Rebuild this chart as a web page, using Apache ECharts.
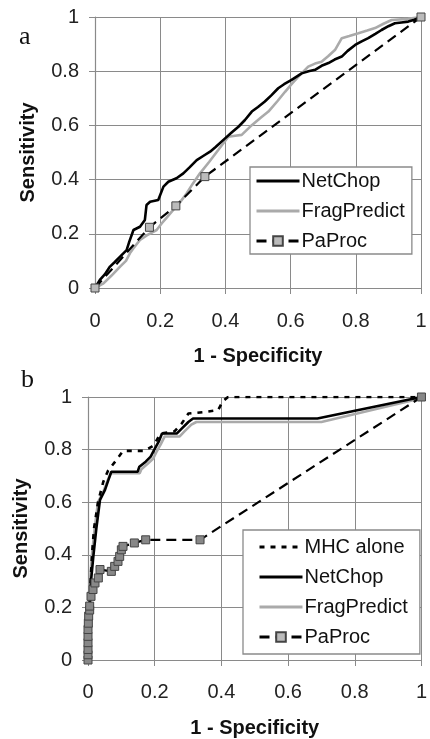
<!DOCTYPE html>
<html><head><meta charset="utf-8">
<script src="https://cdn.jsdelivr.net/npm/echarts@6/dist/echarts.min.js"></script>
<style>html,body{margin:0;padding:0;background:#fff}#c{width:430px;height:739px}</style>
</head><body><div id="c"></div>
<script>
const axisTicks = [0, 0.2, 0.4, 0.6, 0.8, 1];
const xAxisTitle = '1 - Specificity';
const yAxisTitle = 'Sensitivity';
const panelLabels = ['a', 'b'];
const legendA = ['NetChop', 'FragPredict', 'PaProc'];
const legendB = ['MHC alone', 'NetChop', 'FragPredict', 'PaProc'];

const netChopA = [[0,0],[0.015,0.03],[0.03,0.05],[0.046,0.079],[0.06,0.095],[0.077,0.116],[0.097,0.14],[0.105,0.17],[0.118,0.214],[0.138,0.226],[0.153,0.251],[0.158,0.306],[0.169,0.318],[0.194,0.325],[0.21,0.374],[0.225,0.392],[0.25,0.405],[0.271,0.423],[0.29,0.445],[0.312,0.472],[0.333,0.488],[0.353,0.503],[0.37,0.52],[0.399,0.552],[0.42,0.575],[0.44,0.595],[0.46,0.62],[0.481,0.651],[0.5,0.668],[0.521,0.688],[0.54,0.71],[0.562,0.737],[0.58,0.752],[0.603,0.768],[0.634,0.792],[0.655,0.8],[0.675,0.805],[0.695,0.82],[0.716,0.83],[0.735,0.843],[0.757,0.854],[0.775,0.875],[0.798,0.897],[0.818,0.91],[0.838,0.922],[0.86,0.938],[0.879,0.952],[0.9,0.966],[0.92,0.977],[0.94,0.98],[0.961,0.983],[0.98,0.99],[1,1]];
const fragPredictA = [[0,0],[0.026,0.017],[0.05,0.045],[0.077,0.079],[0.095,0.1],[0.107,0.128],[0.12,0.15],[0.138,0.177],[0.16,0.195],[0.189,0.214],[0.205,0.239],[0.22,0.26],[0.24,0.288],[0.26,0.315],[0.281,0.349],[0.3,0.385],[0.322,0.423],[0.35,0.465],[0.378,0.509],[0.409,0.558],[0.43,0.562],[0.45,0.565],[0.481,0.601],[0.51,0.63],[0.532,0.651],[0.56,0.69],[0.583,0.724],[0.605,0.755],[0.624,0.78],[0.654,0.817],[0.675,0.828],[0.695,0.835],[0.715,0.855],[0.736,0.878],[0.757,0.922],[0.78,0.93],[0.808,0.94],[0.835,0.95],[0.859,0.959],[0.885,0.975],[0.91,0.989],[0.96,0.993],[1,1]];
const paProcA = [[0,0],[0.167,0.224],[0.248,0.303],[0.337,0.411],[1,1]];

const mhcAloneB = [[0,0],[0.002,0.1],[0.005,0.2],[0.008,0.3],[0.012,0.4],[0.018,0.5],[0.03,0.6],[0.046,0.678],[0.06,0.72],[0.085,0.76],[0.105,0.795],[0.168,0.795],[0.19,0.81],[0.198,0.817],[0.217,0.861],[0.26,0.87],[0.281,0.899],[0.301,0.937],[0.35,0.943],[0.39,0.95],[0.405,0.985],[0.42,1],[1,1]];
const netChopB = [[0,0],[0.002,0.1],[0.005,0.2],[0.009,0.3],[0.016,0.394],[0.025,0.5],[0.036,0.609],[0.051,0.647],[0.061,0.684],[0.07,0.716],[0.149,0.716],[0.154,0.735],[0.173,0.754],[0.188,0.773],[0.198,0.798],[0.212,0.83],[0.222,0.861],[0.266,0.861],[0.281,0.88],[0.301,0.905],[0.315,0.918],[0.688,0.918],[1,1]];
const fragPredictB = [[0,0],[0.001,0.1],[0.003,0.2],[0.006,0.3],[0.012,0.4],[0.02,0.5],[0.03,0.6],[0.046,0.64],[0.058,0.68],[0.068,0.71],[0.155,0.71],[0.16,0.725],[0.178,0.745],[0.195,0.765],[0.205,0.79],[0.218,0.82],[0.23,0.85],[0.275,0.85],[0.29,0.87],[0.31,0.895],[0.325,0.905],[0.7,0.905],[1,0.995]];
const paProcB = [[0,0],[0,0.02],[0,0.04],[0,0.066],[0,0.09],[0,0.116],[0.001,0.14],[0.002,0.167],[0.005,0.19],[0.005,0.205],[0.009,0.242],[0.015,0.268],[0.021,0.293],[0.031,0.312],[0.036,0.344],[0.07,0.337],[0.08,0.356],[0.09,0.375],[0.095,0.394],[0.1,0.419],[0.105,0.432],[0.139,0.445],[0.173,0.457],[0.336,0.457],[1,1]];

const FONT = 'Liberation Sans';
const GRIDC = '#8a8a8a';
function xAx(gi, lm){
  return {type:'value', gridIndex:gi, min:0, max:1, interval:0.2,
    name:xAxisTitle, nameLocation:'middle', nameGap:58,
    nameTextStyle:{fontFamily:FONT,fontWeight:'bold',fontSize:20,color:'#111'},
    axisLine:{show:true,lineStyle:{color:GRIDC,width:1.2}},
    axisTick:{show:true,length:6,lineStyle:{color:GRIDC}},
    splitLine:{show:true,lineStyle:{color:GRIDC,width:1}},
    axisLabel:{fontFamily:FONT,fontSize:20,color:'#222',margin:lm}};
}
function yAx(gi){
  return {type:'value', gridIndex:gi, min:0, max:1, interval:0.2,
    name:yAxisTitle, nameLocation:'middle', nameGap:57,
    nameTextStyle:{fontFamily:FONT,fontWeight:'bold',fontSize:20,color:'#111'},
    axisLine:{show:true,lineStyle:{color:GRIDC,width:1.2}},
    axisTick:{show:true,length:6,lineStyle:{color:GRIDC}},
    splitLine:{show:true,lineStyle:{color:GRIDC,width:1}},
    axisLabel:{fontFamily:FONT,fontSize:20,color:'#222',margin:16}};
}
function ser(name, data, gi, style){
  return Object.assign({type:'line', name, data, xAxisIndex:gi, yAxisIndex:gi,
    showSymbol:false, symbol:'none', animation:false, silent:true}, style);
}
const sNet = {lineStyle:{color:'#000',width:2.6}, itemStyle:{color:'#000'}};
const sFrag = {lineStyle:{color:'#aaa',width:2.6}, itemStyle:{color:'#aaa'}};
const sMhc = {lineStyle:{color:'#000',width:2.6,type:[5,6]}, itemStyle:{color:'#000'}};
function sPa(fill){
  return {showSymbol:true, symbol:'rect', symbolSize:8,
    lineStyle:{color:'#000',width:2.2,type:[10,6]},
    itemStyle:{color:fill,borderColor:'#444',borderWidth:1}};
}
const noMark = {color:'rgba(0,0,0,0)', borderWidth:0, opacity:0};
function legItems(names){
  return names.map(n => n === 'PaProc' ? {name:n} : {name:n, itemStyle:noMark});
}
function legend(names, left, top, pad){
  return {data:legItems(names), left, top, orient:'vertical', itemWidth:43, itemHeight:12, itemGap:10,
    lineStyle:{width:3},
    backgroundColor:'#fff', borderColor:GRIDC, borderWidth:1.3, borderRadius:0,
    padding:pad, textStyle:{fontFamily:FONT,fontSize:20,color:'#111',padding:[0,0,0,-3]}};
}

const chart = echarts.init(document.getElementById('c'));
chart.setOption({
  backgroundColor:'#fff',
  animation:false,
  grid:[{left:95,top:17,width:326,height:271},{left:88,top:397,width:340,height:264}],
  xAxis:[xAx(0,23),xAx(1,22)],
  yAxis:[yAx(0),yAx(1)],
  legend:[
    legend(legendA, 250, 167, [4,7,3,5]),
    legend(legendB, 243, 530, [7,12,7,15])
  ],
  graphic:[
    {type:'text',left:19,top:24,style:{text:panelLabels[0],fontFamily:'Liberation Serif',fontSize:26,fill:'#111'}},
    {type:'text',left:21,top:367,style:{text:panelLabels[1],fontFamily:'Liberation Serif',fontSize:26,fill:'#111'}}
  ],
  series:[
    ser('FragPredict', fragPredictA, 0, sFrag),
    ser('PaProc', paProcA, 0, sPa('#bbb')),
    ser('NetChop', netChopA, 0, sNet),
    ser('FragPredict', fragPredictB, 1, sFrag),
    ser('NetChop', netChopB, 1, sNet),
    ser('PaProc', paProcB, 1, sPa('#888')),
    ser('MHC alone', mhcAloneB, 1, sMhc)
  ]
});
</script></body></html>
